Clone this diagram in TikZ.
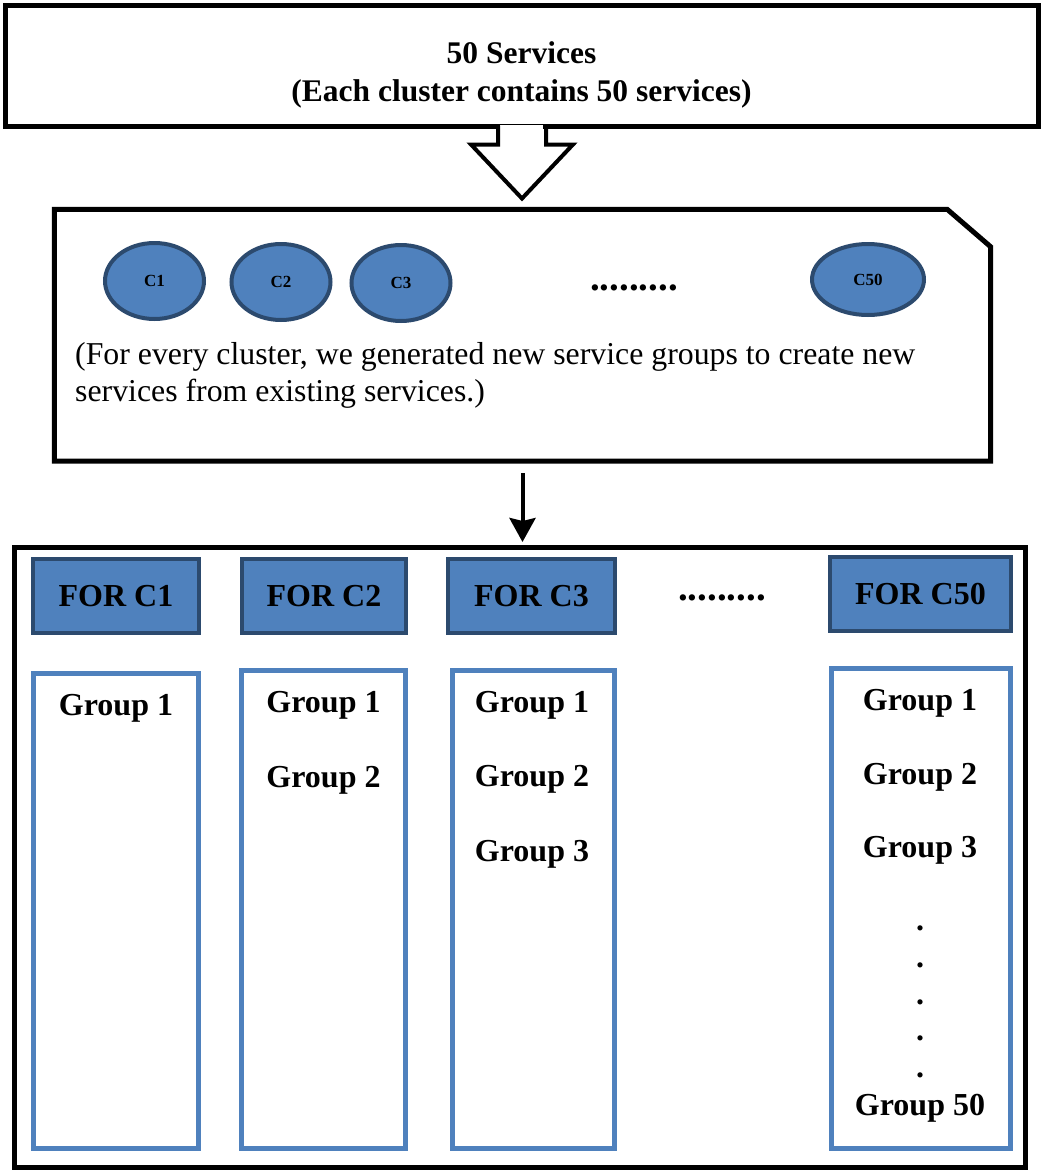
\documentclass[tikz,border=0pt]{standalone}
\usepackage{fontspec}
\setmainfont{Liberation Serif}
\usetikzlibrary{arrows.meta,shapes.geometric}

\definecolor{boxblue}{HTML}{4F81BD}
\definecolor{darkblue}{HTML}{2C4A6E}

\tikzstyle{frame}=[draw=black,line width=5pt,inner sep=0pt]
\tikzstyle{cluster}=[ellipse,draw=darkblue,fill=boxblue,line width=4pt,inner sep=0pt,font=\fontsize{17}{20}\selectfont\bfseries]
\tikzstyle{header}=[rectangle,draw=darkblue,fill=boxblue,line width=4pt,minimum height=74pt,inner sep=0pt,font=\fontsize{32}{37}\selectfont\bfseries]
\tikzstyle{column}=[rectangle,draw=boxblue,line width=5pt,inner sep=0pt]
\tikzstyle{grouptext}=[anchor=base,inner sep=0pt,font=\fontsize{32}{37}\selectfont\bfseries]
\tikzstyle{flow}=[line width=4pt]

\begin{document}
\begin{tikzpicture}[x=1pt,y=-1pt]
    \useasboundingbox (0,0) rectangle (1043,1173);
    % top box
    \node (services)[frame,minimum width=1033pt,minimum height=121pt] at (521.5,65.5) {};
    \node (servicetext)[align=center,inner sep=0pt,font=\fontsize{31.5}{38}\selectfont\bfseries] at (521.5,75) {50 Services\\(Each cluster contains 50 services)};
    % block arrow
    \fill[white] ([xshift=-21.5pt,yshift=4pt]services.south) rectangle ([xshift=21.5pt,yshift=-4pt]services.south);
    \draw[flow,line join=miter] ([xshift=-23.5pt,yshift=3pt]services.south) -- ++(0,19) -- ++(-27,0) -- ++(51,54) -- ++(51,-54) -- ++(-27,0) -- ++(0,-19);
    % clusters box
    \node (clusters)[minimum width=936pt,minimum height=251.5pt,inner sep=0pt] at (522.5,335.25) {};
    \draw[frame,line join=miter] (clusters.north west) -- ([xshift=-43.5pt]clusters.north east) -- ([yshift=-37.5pt]clusters.north east) -- (clusters.south east) -- (clusters.south west) -- cycle;
    \node (c1)[cluster,minimum width=99pt,minimum height=76pt] at (154.5,281) {C1};
    \node (c2)[cluster,minimum width=99pt,minimum height=76pt] at (281,282) {C2};
    \node (c3)[cluster,minimum width=99pt,minimum height=76pt] at (401,283) {C3};
    \node (c50)[cluster,minimum width=112pt,minimum height=71pt] at (868,279.5) {C50};
    \node (moreclusters)[grouptext,font=\fontsize{39}{40}\selectfont\bfseries] at (634,290) {.........};
    \node (note)[anchor=north west,align=left,inner sep=0pt,font=\fontsize{31.8}{37}\selectfont] at (75,342.5) {(For every cluster, we generated new service groups to create new\\services from existing services.)};
    % results box
    \node (results)[frame,minimum width=1011pt,minimum height=620pt] at (520,857.5) {};
    \draw[flow,-{Stealth[length=24pt,width=26pt,inset=3pt]},shorten <=12pt,shorten >=3pt] (clusters.south) -- (clusters.south |- results.north);
    % headers
    \node (for1)[header,minimum width=166pt] at (116,596) {FOR C1};
    \node (for2)[header,minimum width=164pt] at (324,596) {FOR C2};
    \node (for3)[header,minimum width=167pt] at (531.5,596) {FOR C3};
    \node (for50)[header,minimum width=181pt] at (920.5,594) {FOR C50};
    \node (moreheaders)[grouptext,font=\fontsize{39}{40}\selectfont\bfseries] at (722,600) {.........};
    % group columns
    \node (col1)[column,minimum width=165pt,minimum height=475pt] at (116,911) {};
    \node (col2)[column,minimum width=164pt,minimum height=478pt] at (323.5,909.5) {};
    \node (col3)[column,minimum width=162pt,minimum height=478pt] at (533,909.5) {};
    \node (col50)[column,minimum width=179pt,minimum height=480pt] at (921,908.5) {};
    \node (g11)[grouptext] at (116,715) {Group 1};
    \node (g21)[grouptext] at (323.5,712) {Group 1};
    \node (g22)[grouptext] at (323.5,787) {Group 2};
    \node (g31)[grouptext] at (532,712) {Group 1};
    \node (g32)[grouptext] at (532,786) {Group 2};
    \node (g33)[grouptext] at (532,861) {Group 3};
    \node (g501)[grouptext] at (920,710) {Group 1};
    \node (g502)[grouptext] at (920,784) {Group 2};
    \node (g503)[grouptext] at (920,857) {Group 3};
    \foreach \y in {928,965,1002,1038,1075}
        \node (dot\y)[grouptext] at (920,\y+2.5) {.};
    \node (g5050)[grouptext] at (920,1115) {Group 50};
\end{tikzpicture}
\end{document}
